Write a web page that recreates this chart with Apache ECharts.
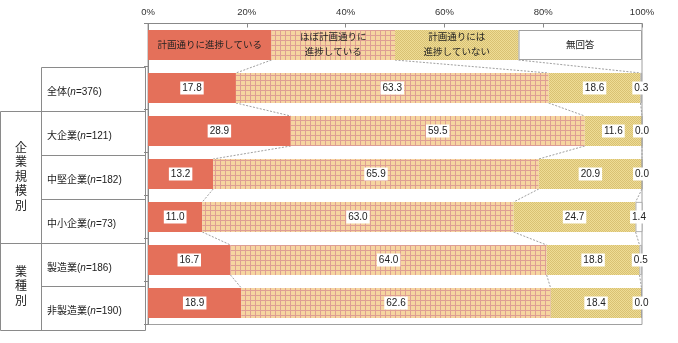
<!DOCTYPE html>
<html>
<head>
<meta charset="utf-8">
<script src="https://cdn.jsdelivr.net/npm/echarts@6/dist/echarts.min.js"></script>
<style>
  html, body { margin: 0; padding: 0; background: #fff; }
  #chart { width: 678px; height: 343px; }
</style>
</head>
<body>
<div id="chart"></div>
<script>
// Response categories (stack order, left to right)
const seriesNames = ['計画通りに進捗している', 'ほぼ計画通りに進捗している', '計画通りには進捗していない', '無回答'];
const keyLabels = ['計画通りに進捗している', 'ほぼ計画通りに\n進捗している', '計画通りには\n進捗していない', '無回答'];
const keyShare = 25; // the key row is split into four equal quarters

// Respondent groups
const rowNames = ['全体', '大企業', '中堅企業', '中小企業', '製造業', '非製造業'];
const sampleSizes = [376, 121, 182, 73, 186, 190];
const groupNames = ['企業規模別', '業種別'];

// Shares (%) per group
const onTrack = [17.8, 28.9, 13.2, 11.0, 16.7, 18.9];
const mostlyOnTrack = [63.3, 59.5, 65.9, 63.0, 64.0, 62.6];
const notOnTrack = [18.6, 11.6, 20.9, 24.7, 18.8, 18.4];
const noAnswer = [0.3, 0.0, 0.0, 1.4, 0.5, 0.0];

// Percent axis ticks
const xTicks = [0, 20, 40, 60, 80, 100];

const FONT = "'Liberation Sans', 'Noto Sans CJK JP', sans-serif";

function gridPattern() {
  const c = document.createElement('canvas');
  c.width = 5; c.height = 5;
  const g = c.getContext('2d');
  g.fillStyle = '#F6D5A0'; g.fillRect(0, 0, 5, 5);
  g.fillStyle = '#DE9E94'; g.fillRect(0, 0, 5, 1); g.fillRect(0, 0, 1, 5);
  return { image: c, repeat: 'repeat' };
}
function dotPattern() {
  const c = document.createElement('canvas');
  c.width = 2; c.height = 2;
  const g = c.getContext('2d');
  g.fillStyle = '#EEDC95'; g.fillRect(0, 0, 2, 2);
  g.fillStyle = '#D9C173'; g.fillRect(0, 0, 1, 1); g.fillRect(1, 1, 1, 1);
  return { image: c, repeat: 'repeat' };
}

const fills = ['#E4705A', gridPattern(), dotPattern(), '#FFFFFF'];
const valueArrays = [onTrack, mostlyOnTrack, notOnTrack, noAnswer];
const categories = ['凡例'].concat(rowNames);

// Stacked rows including the key row, used for connector lines
const rows = [[keyShare, keyShare, keyShare, keyShare]].concat(
  rowNames.map((_, i) => valueArrays.map(a => a[i]))
);
function cumulative(r) {
  const out = []; let s = 0;
  for (let k = 0; k < 3; k++) { s += r[k]; out.push(s); }
  return out;
}

const BAR = 30;

const barSeries = seriesNames.map((name, si) => ({
  name: name,
  type: 'bar',
  stack: 'total',
  barWidth: BAR,
  itemStyle: si === 3 ? { color: fills[si], borderColor: '#A0A0A0', borderWidth: 0.8 } : { color: fills[si] },
  label: {
    show: true,
    position: 'inside',
    fontFamily: FONT,
    fontSize: 10,
    color: '#222',
    backgroundColor: '#fff',
    padding: [2, 2, 1, 2],
    formatter: p => p.value.toFixed(1)
  },
  data: [{
    value: keyShare,
    itemStyle: si === 3 ? { color: '#fff', borderColor: '#A0A0A0', borderWidth: 1 } : { color: fills[si] },
    label: {
      formatter: keyLabels[si],
      backgroundColor: 'transparent',
      padding: 0,
      fontSize: 9.5,
      lineHeight: 14.5,
      color: '#222'
    }
  }].concat(valueArrays[si].map(v => v))
}));

const connectorSeries = {
  type: 'custom',
  silent: true,
  clip: false,
  z: 1,
  encode: { x: 0, y: 1 },
  data: rows.slice(0, -1).map((_, i) => [0, i]),
  renderItem: function (params, api) {
    const i = params.dataIndex;
    const up = cumulative(rows[i]);
    const lo = cumulative(rows[i + 1]);
    const children = [];
    for (let k = 0; k < 3; k++) {
      const p1 = api.coord([up[k], i]);
      const p2 = api.coord([lo[k], i + 1]);
      children.push({
        type: 'line',
        shape: { x1: p1[0], y1: p1[1] + BAR / 2, x2: p2[0], y2: p2[1] - BAR / 2 },
        style: { stroke: '#A0A0A0', lineWidth: 1, lineDash: [2, 1.5] }
      });
    }
    return { type: 'group', children: children };
  }
};

// Row table on the left
const tableLines = [];
const rowEdges = [67.5, 111.5, 155.5, 199.5, 243.5, 286.5, 330.5];
const groupBreaks = [111.5, 243.5, 330.5];
function hline(y, x1, x2) {
  tableLines.push({ type: 'line', shape: { x1: x1, y1: y, x2: x2, y2: y }, style: { stroke: '#8A8A8A', lineWidth: 1 }, silent: true });
}
function vline(x, y1, y2) {
  tableLines.push({ type: 'line', shape: { x1: x, y1: y1, x2: x, y2: y2 }, style: { stroke: '#8A8A8A', lineWidth: 1 }, silent: true });
}
rowEdges.forEach(y => hline(y, groupBreaks.indexOf(y) >= 0 ? 0.5 : 41.5, 145.5));
vline(0.5, 111.5, 330.5);
vline(41.5, 67.5, 330.5);
vline(145.5, 67.5, 330.5);

const tableTexts = rowNames.map((name, i) => ({
  type: 'text',
  left: 47,
  top: (rowEdges[i] + rowEdges[i + 1]) / 2 - 2,
  silent: true,
  style: {
    text: name + '({i|n}=' + sampleSizes[i] + ')',
    rich: { i: { fontStyle: 'italic', fontFamily: FONT, fontSize: 10, fill: '#222' } },
    font: '10px ' + FONT,
    fill: '#222'
  }
}));
const groupSpans = [[111.5, 243.5], [243.5, 330.5]];
groupNames.forEach((g, gi) => {
  tableTexts.push({
    type: 'text',
    silent: true,
    x: 21,
    y: (groupSpans[gi][0] + groupSpans[gi][1]) / 2,
    style: {
      text: g.split('').join('\n'),
      font: '12px ' + FONT,
      lineHeight: 14.5,
      fill: '#222',
      align: 'center',
      verticalAlign: 'middle'
    }
  });
});

const chart = echarts.init(document.getElementById('chart'), null, { renderer: 'canvas' });
chart.setOption({
  animation: false,
  backgroundColor: '#fff',
  textStyle: { fontFamily: FONT },
  grid: {
    left: 148, right: 36, top: 23.5, height: 301,
    show: true, borderColor: '#A0A0A0', borderWidth: 1
  },
  xAxis: {
    type: 'value',
    position: 'top',
    min: xTicks[0],
    max: xTicks[xTicks.length - 1],
    interval: xTicks[1] - xTicks[0],
    axisLine: { show: true, lineStyle: { color: '#888' } },
    axisTick: { show: true, inside: true, length: 4, lineStyle: { color: '#888' } },
    splitLine: { show: false },
    axisLabel: { formatter: '{value}%', fontSize: 9.5, color: '#333', margin: 6, fontFamily: FONT }
  },
  yAxis: {
    type: 'category',
    inverse: true,
    data: categories,
    axisLine: { show: true, lineStyle: { color: '#888' } },
    axisTick: { show: true, length: 4, lineStyle: { color: '#888' } },
    axisLabel: { show: false }
  },
  series: [connectorSeries].concat(barSeries),
  graphic: tableLines.concat(tableTexts)
});
</script>
</body>
</html>
